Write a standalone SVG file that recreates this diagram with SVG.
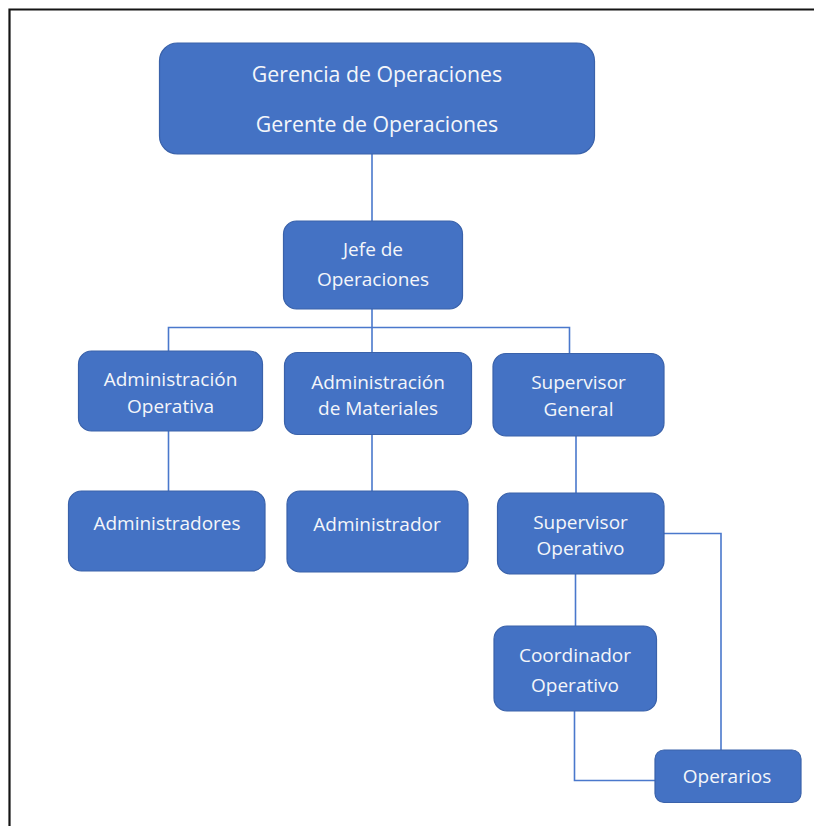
<svg xmlns="http://www.w3.org/2000/svg" width="814" height="826" viewBox="0 0 814 826">
<style>
.box{fill:#4472C4;stroke:#3A62AA;stroke-width:1.2}
.t{fill:#F4F6FA;font-family:"Open Sans","Noto Sans",sans-serif;font-size:19px;text-anchor:middle}
.tt{font-size:21.3px}
.c{fill:none;stroke:#4A78CC;stroke-width:1.6}
</style>
<rect width="814" height="826" fill="#FFFFFF"/>
<g id="frame"><path d="M9.5 826V9.5H814" fill="none" stroke="#151515" stroke-width="2.2"/></g>
<g id="connectors">
<path class="c" d="M372 154V221"/>
<path class="c" d="M372 309V352"/>
<path class="c" d="M168.5 351V327.5H569.5V353"/>
<path class="c" d="M168.5 431V491"/>
<path class="c" d="M372 434V491"/>
<path class="c" d="M576 436V493"/>
<path class="c" d="M575.5 574V626"/>
<path class="c" d="M574.5 711V780.5H655"/>
<path class="c" d="M664 533.5H721V750"/>
</g>
<g id="gerencia"><rect class="box" x="159.5" y="43" width="435" height="111" rx="18"/>
<text class="t tt" x="377" y="82">Gerencia de Operaciones</text>
<text class="t tt" x="377" y="132">Gerente de Operaciones</text></g>
<g id="jefe"><rect class="box" x="283.5" y="221" width="179" height="88" rx="13"/>
<text class="t" x="373" y="256">Jefe de</text>
<text class="t" x="373" y="286">Operaciones</text></g>
<g id="adm-operativa"><rect class="box" x="78.5" y="351" width="184" height="80" rx="13"/>
<text class="t" x="170.5" y="386">Administración</text>
<text class="t" x="170.5" y="413">Operativa</text></g>
<g id="adm-materiales"><rect class="box" x="284.5" y="352.5" width="187" height="82" rx="13"/>
<text class="t" x="378" y="388.5">Administración</text>
<text class="t" x="378" y="415">de Materiales</text></g>
<g id="supervisor-general"><rect class="box" x="493" y="353.5" width="171" height="82.5" rx="13"/>
<text class="t" x="578.5" y="389">Supervisor</text>
<text class="t" x="578.5" y="415.5">General</text></g>
<g id="administradores"><rect class="box" x="68.5" y="491" width="196.5" height="80" rx="13"/>
<text class="t" x="167" y="529.5">Administradores</text></g>
<g id="administrador"><rect class="box" x="287" y="491" width="181" height="81" rx="13"/>
<text class="t" x="377" y="531">Administrador</text></g>
<g id="supervisor-operativo"><rect class="box" x="497.5" y="493" width="166.5" height="81" rx="13"/>
<text class="t" x="580.5" y="529">Supervisor</text>
<text class="t" x="580.5" y="555">Operativo</text></g>
<g id="coordinador"><rect class="box" x="494" y="626" width="162.5" height="85" rx="13"/>
<text class="t" x="575" y="661.5">Coordinador</text>
<text class="t" x="575" y="691.5">Operativo</text></g>
<g id="operarios"><rect class="box" x="655" y="750" width="146" height="52.5" rx="9"/>
<text class="t" x="727" y="783">Operarios</text></g>
</svg>
